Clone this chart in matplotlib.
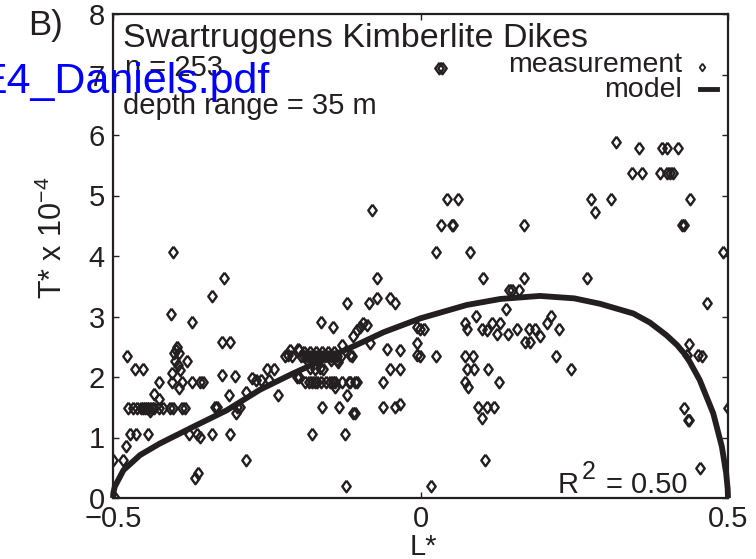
import numpy as np
import matplotlib
matplotlib.use('Agg')
import matplotlib.pyplot as plt

plt.rcParams['font.family'] = ['Liberation Sans', 'DejaVu Sans']

ink = '#231f20'

meas_L = [
    -0.497, -0.500, -0.484, -0.479, -0.473, -0.463, -0.443, -0.477, -0.465, -0.452,
    -0.475, -0.468, -0.461, -0.455, -0.451, -0.448, -0.445, -0.441, -0.437, -0.433,
    -0.426, -0.418, -0.408, -0.402, -0.387, -0.383, -0.440, -0.433, -0.425, -0.425,
    -0.402, -0.406, -0.396, -0.401, -0.393, -0.400, -0.380, -0.404, -0.391, -0.404,
    -0.388, -0.393, -0.398, -0.395, -0.372, -0.372, -0.359, -0.353, -0.376, -0.364,
    -0.359, -0.367, -0.361, -0.339, -0.339, -0.319, -0.323, -0.310, -0.323, -0.334,
    -0.331, -0.310, -0.311, -0.302, -0.300, -0.298, -0.293, -0.284, -0.284, -0.274,
    -0.267, -0.259, -0.250, -0.239, -0.246, -0.232,
    -0.220, -0.212, -0.209, -0.197, -0.215, -0.199, -0.201, -0.198,
    -0.195, -0.190, -0.185, -0.180, -0.175, -0.170, -0.165, -0.160, -0.155, -0.150,
    -0.145, -0.140, -0.135, -0.130, -0.190, -0.180, -0.170, -0.160, -0.150, -0.140,
    -0.185, -0.165, -0.145, -0.135,
    -0.128, -0.134, -0.115, -0.112,
    -0.188, -0.182, -0.177, -0.172, -0.169, -0.161, -0.153, -0.147, -0.142, -0.139,
    -0.128, -0.117, -0.115, -0.107, -0.104,
    -0.179, -0.163, -0.172, -0.158, -0.161, -0.143, -0.160, -0.133, -0.139, -0.120,
    -0.176, -0.123, -0.121, -0.120, -0.109, -0.107, -0.110, -0.104, -0.098, -0.093,
    -0.087, -0.083, -0.071, -0.050, -0.041, -0.082, -0.055, -0.050, -0.034, -0.061,
    -0.061, -0.041, -0.034, -0.034, -0.006, -0.006, -0.006, -0.071, -0.079,
    -0.001, 0.005, -0.001, 0.025, 0.017, 0.030, 0.035,
    0.043, 0.061, 0.033, 0.051, 0.053, 0.025, 0.080, 0.101, 0.091, 0.072,
    0.075, 0.100, 0.108, 0.117, 0.124, 0.129, 0.143, 0.157, 0.177, 0.186,
    0.205, 0.213, 0.226, 0.139, 0.144, 0.148, 0.160, 0.169, 0.169, 0.170,
    0.178, 0.195, 0.072, 0.086, 0.075, 0.087, 0.072, 0.078, 0.110, 0.127,
    0.094, 0.108, 0.120, 0.100, 0.105,
    0.221, 0.244, 0.270, 0.277, 0.284, 0.310, 0.318, 0.356, 0.392, 0.400,
    0.419, 0.344, 0.360, 0.389, 0.400, 0.406, 0.411, 0.439, 0.426, 0.428,
    0.466, 0.492, 0.437, 0.433, 0.452, 0.457, 0.429, 0.435, 0.437, 0.454,
    0.500,
]
meas_T = [
    0.00, 0.63, 0.63, 0.86, 1.06, 1.06, 1.06, 2.35, 2.13, 2.13,
    1.49, 1.49, 1.49, 1.49, 1.49, 1.49, 1.49, 1.49, 1.49, 1.49,
    1.49, 1.49, 1.49, 1.49, 1.49, 1.49, 1.43, 1.72, 1.63, 1.92,
    4.07, 3.04, 2.50, 2.39, 2.39, 2.27, 2.27, 2.06, 2.12, 1.92,
    1.92, 1.81, 2.45, 2.20, 2.91, 1.92, 1.92, 1.92, 1.06, 1.06,
    1.01, 0.33, 0.42, 3.34, 1.06, 3.64, 2.58, 2.58, 2.04, 1.51,
    1.51, 1.06, 1.70, 2.01, 1.40, 1.50, 1.50, 0.63, 1.76, 1.98,
    1.95, 1.95, 2.13, 2.13, 1.95, 1.70,
    2.35, 2.45, 2.35, 2.45, 2.36, 2.47, 2.00, 2.00,
    2.35, 2.35, 2.35, 2.35, 2.35, 2.35, 2.35, 2.35, 2.35, 2.35,
    2.35, 2.35, 2.35, 2.35, 2.42, 2.42, 2.42, 2.42, 2.42, 2.42,
    2.28, 2.28, 2.28, 2.28,
    2.53, 2.25, 2.36, 2.35,
    1.92, 1.92, 1.92, 1.92, 1.92, 1.92, 1.92, 1.92, 1.92, 1.92,
    1.92, 1.92, 1.92, 1.92, 1.92,
    2.15, 2.15, 2.14, 2.14, 2.91, 2.82, 1.51, 1.51, 1.84, 1.70,
    1.06, 1.06, 0.20, 3.22, 1.41, 1.40, 2.67, 2.78, 2.83, 2.89,
    2.86, 3.22, 3.30, 3.30, 3.22, 2.56, 2.47, 2.14, 2.14, 1.92,
    1.51, 1.51, 1.55, 2.44, 2.82, 2.57, 2.36, 3.64, 4.76,
    2.79, 2.79, 2.35, 2.35, 0.20, 7.10, 7.10,
    4.94, 4.94, 4.51, 4.51, 4.51, 4.07, 4.07, 3.64, 3.01, 2.90,
    2.79, 2.79, 2.78, 2.89, 2.71, 2.89, 2.71, 2.79, 2.79, 2.79,
    2.89, 3.01, 2.79, 3.12, 3.43, 3.43, 3.43, 4.51, 3.64, 2.58,
    2.58, 2.67, 2.35, 2.35, 2.14, 2.14, 1.91, 1.84, 2.14, 1.92,
    1.51, 1.51, 1.51, 1.32, 0.63,
    2.35, 2.14, 3.64, 4.94, 4.72, 4.94, 5.89, 5.79, 5.79, 5.79,
    5.79, 5.37, 5.37, 5.37, 5.37, 5.37, 5.37, 4.94, 4.51, 4.51,
    3.22, 4.07, 2.55, 2.36, 2.36, 2.35, 1.49, 1.29, 1.29, 0.50,
    1.49,
]

# model curve
model_L = [-0.500, -0.4995, -0.497, -0.483, -0.456, -0.424, -0.369, -0.315, -0.261,
           -0.207, -0.153, -0.104, -0.060, 0.000, 0.075, 0.130, 0.194, 0.250,
           0.292, 0.346, 0.373, 0.400, 0.417, 0.433, 0.454, 0.476, 0.490, 0.497,
           0.4995, 0.500]
model_T = [0.00, 0.08, 0.19, 0.46, 0.71, 0.90, 1.18, 1.45, 1.79,
           2.06, 2.31, 2.53, 2.74, 2.97, 3.19, 3.29, 3.34, 3.30,
           3.21, 3.05, 2.90, 2.69, 2.53, 2.34, 1.95, 1.40, 0.85, 0.41,
           0.15, 0.00]

x_ticks = [-0.5, 0, 0.5]
y_ticks = [0, 1, 2, 3, 4, 5, 6, 7, 8]

diamond = [(0, 1), (0.73, 0), (0, -1), (-0.73, 0), (0, 1)]

W, H = 756, 559
fig = plt.figure(figsize=(W / 100, H / 100), dpi=100)
ax = fig.add_axes([113 / W, 1 - 498 / H, 615 / W, 484 / H])

ax.plot(meas_L, meas_T, linestyle='none', marker=diamond, markersize=8.3,
        markerfacecolor='none', markeredgecolor=ink, markeredgewidth=1.7)
ax.plot(model_L, model_T, color=ink, linewidth=4.2, solid_capstyle='butt',
        solid_joinstyle='round', clip_on=False)

ax.set_xlim(-0.5, 0.5)
ax.set_ylim(0, 8)
ax.set_xticks(x_ticks)
ax.set_xticklabels(['\u22120.5', '0', '0.5'])
ax.set_yticks(y_ticks)
ax.tick_params(direction='in', top=True, right=True, length=4.5, width=1,
               color=ink, labelsize=21, labelcolor=ink)
ax.tick_params(axis='y', pad=6)
ax.tick_params(axis='x', pad=5)
for s in ax.spines.values():
    s.set_linewidth(1.6)
    s.set_color(ink)

def ftext(x, y, s, **kw):
    fig.text(x / W, 1 - y / H, s, color=kw.pop('color', ink), va=kw.pop('va', 'baseline'), **kw)

ftext(28, 35, 'B)', fontsize=25)
ftext(123, 47, 'Swartruggens Kimberlite Dikes', fontsize=24.5)
ftext(125, 76, 'n = 253', fontsize=21)
ftext(123, 114, 'depth range = 35 m', fontsize=21)
ftext(-22, 93, 'E4_Daniels.pdf', fontsize=31, color='#0000ff')

ftext(682, 72, 'measurement', fontsize=20.5, ha='right')
ftext(682, 97, 'model', fontsize=20.5, ha='right')
fig.add_artist(plt.Line2D([702 / W], [1 - 67 / H], marker=diamond, markersize=5.5,
                          markerfacecolor='none', markeredgecolor=ink, markeredgewidth=1.3))
fig.add_artist(plt.Line2D([700 / W, 717 / W], [1 - 89 / H, 1 - 89 / H], color=ink, linewidth=3.5))

ftext(558, 493, 'R', fontsize=21)
ftext(582, 479, '2', fontsize=18)
ftext(688, 493, '= 0.50', fontsize=21, ha='right')

ftext(423, 555, 'L*', fontsize=21, ha='center')
ftext(53, 238, 'T* x 10$^{\\mathregular{-4}}$', fontsize=22, rotation=90,
      ha='center', va='center')

fig.savefig('out.png', dpi=100)
